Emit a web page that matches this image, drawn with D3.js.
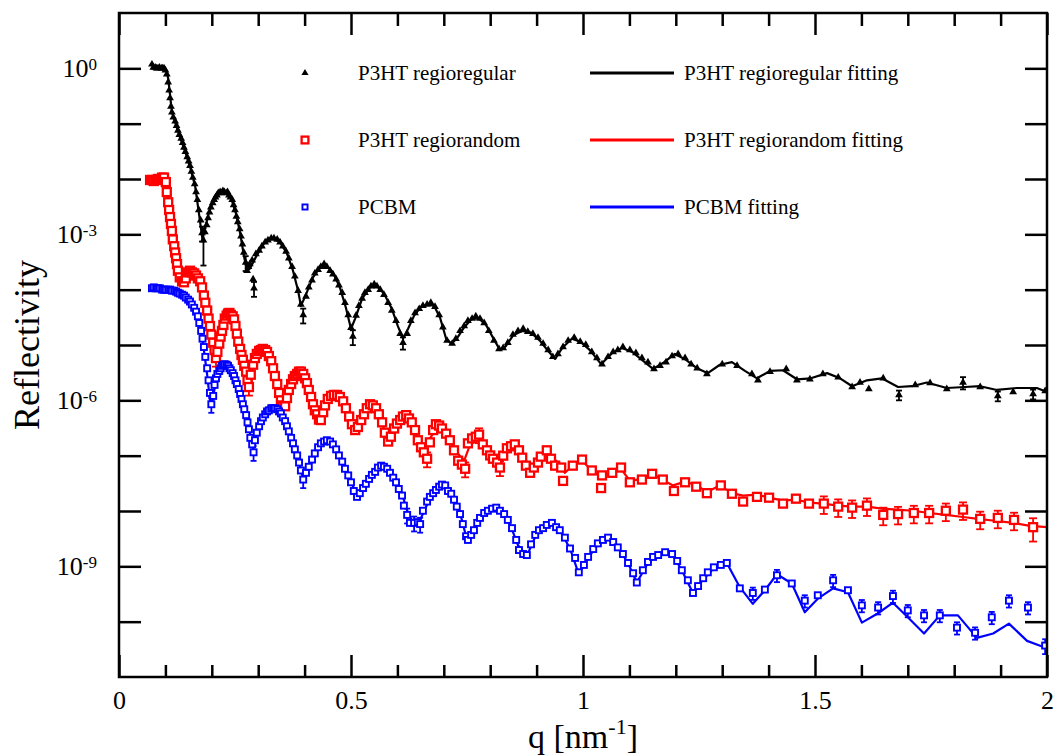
<!DOCTYPE html>
<html>
<head>
<meta charset="utf-8">
<script src="https://cdn.jsdelivr.net/npm/d3@7"></script>
<style>
  body { margin: 0; background: #fff; }
  svg { display: block; }
  text { font-family: "Liberation Serif", "Times New Roman", serif; fill: #000; }
</style>
</head>
<body>
<svg id="chart" width="1053" height="756"></svg>
<script>
// ---- axis definitions ----
const qMajorTicks = [0, 0.5, 1, 1.5, 2];
const qTickLabels = ["0", "0.5", "1", "1.5", "2"];
const labelledExponents = [0, -3, -6, -9];

// ---- legend ----
const markerLabels = ["P3HT regioregular", "P3HT regiorandom", "PCBM"];
const fitLabels = ["P3HT regioregular fitting", "P3HT regiorandom fitting", "PCBM fitting"];
const seriesColors = ["#000000", "#ff0000", "#0000ff"];

// ---- measured reflectivity: [q (nm^-1), R, relative error (optional)] ----
const regioregularData = [
[0.071,1.18],[0.074,1.04],[0.078,1.04],[0.081,1.0],[0.084,1.0],[0.087,1.04],[0.091,1.0],[0.094,1.0],[0.097,1.0],[0.100,0.92],
[0.103,0.78],[0.106,0.56],[0.108,0.40],[0.110,0.29],[0.112,0.205],[0.114,0.16],[0.117,0.13],[0.121,0.11],[0.124,9.2e-2],[0.127,7.5e-2],
[0.130,6.3e-2],[0.134,5.4e-2],[0.137,4.5e-2],[0.140,3.7e-2],[0.143,3.1e-2],[0.147,2.5e-2],[0.150,2.1e-2],[0.153,1.74e-2],[0.156,1.36e-2],[0.159,1.06e-2],
[0.163,8.1e-3],[0.166,5.8e-3],[0.169,4.2e-3],[0.172,2.75e-3],[0.176,1.8e-3],[0.179,1.06e-3,0.3],[0.182,7.8e-4,0.65],[0.185,1.1e-3],[0.189,1.48e-3],[0.192,1.97e-3],
[0.195,2.5e-3],[0.198,3.1e-3],[0.202,3.7e-3],[0.205,4.2e-3],[0.208,4.7e-3],[0.211,5.1e-3],[0.214,5.6e-3],[0.218,5.8e-3],[0.221,5.6e-3],[0.224,6.1e-3],
[0.227,5.8e-3],[0.231,5.6e-3],[0.234,5.8e-3],[0.237,5.1e-3],[0.240,4.7e-3],[0.244,4.2e-3],[0.247,3.4e-3],[0.250,2.75e-3],[0.253,2.1e-3],[0.256,1.67e-3],
[0.260,1.25e-3],[0.263,9.2e-4],[0.266,6.6e-4],[0.269,4.7e-4],[0.273,3.1e-4,0.3],[0.276,2.2e-4],[0.279,2.6e-4],[0.282,2.9e-4],[0.287,3.4e-4],[0.289,1.54e-4],
[0.291,1.06e-4,0.3],[0.295,4.4e-4],[0.302,5.1e-4],[0.308,6.1e-4],[0.315,7.2e-4],[0.321,7.8e-4],[0.328,8.5e-4],[0.334,8.5e-4],[0.341,8.1e-4],[0.347,7.2e-4],
[0.353,6.1e-4],[0.360,4.9e-4],[0.366,3.7e-4],[0.373,2.6e-4],[0.379,1.74e-4],[0.386,9.6e-5],[0.392,5.4e-5],[0.397,3.5e-5,0.3],[0.403,7.5e-5],[0.409,1.1e-4],
[0.416,1.48e-4],[0.422,1.97e-4],[0.429,2.3e-4],[0.435,2.6e-4],[0.442,2.9e-4],[0.448,2.6e-4],[0.455,2.2e-4],[0.461,1.9e-4],[0.468,1.54e-4],[0.474,1.2e-4],
[0.481,8.8e-5],[0.487,5.8e-5],[0.494,3.5e-5],[0.500,2.05e-5],[0.504,1.42e-5,0.3],[0.511,3.4e-5],[0.517,5.1e-5],[0.524,6.9e-5],[0.530,8.8e-5],[0.537,1.0e-4],
[0.543,1.15e-4],[0.550,1.25e-4],[0.556,1.15e-4],[0.563,1.0e-4],[0.571,8.1e-5],[0.580,5.8e-5],[0.588,4.2e-5],[0.597,2.75e-5],[0.606,1.6e-5],[0.612,1.1e-5,0.25],
[0.621,1.6e-5],[0.629,2.75e-5],[0.638,3.8e-5],[0.647,4.5e-5],[0.655,5.1e-5],[0.664,5.4e-5],[0.672,5.8e-5],[0.681,4.9e-5],[0.690,3.5e-5],[0.698,2.1e-5],
[0.707,1.2e-5],[0.718,1.06e-5],[0.726,1.3e-5],[0.735,1.8e-5],[0.744,2.2e-5],[0.752,2.75e-5],[0.761,3.0e-5],[0.769,3.3e-5],[0.778,3.0e-5],[0.787,2.5e-5],
[0.797,1.8e-5],[0.808,1.2e-5],[0.819,8.5e-6],[0.828,8.8e-6],[0.838,1.1e-5],[0.849,1.54e-5],[0.860,1.8e-5],[0.871,1.97e-5],[0.881,1.74e-5],[0.892,1.6e-5],
[0.903,1.36e-5],[0.914,1.06e-5],[0.925,8.1e-6],[0.935,6.1e-6],[0.946,6.9e-6],[0.957,9.2e-6],[0.968,1.2e-5],[0.981,1.36e-5],[0.994,1.15e-5],[1.006,1.01e-5],
[1.019,7.5e-6],[1.030,5.8e-6],[1.041,4.5e-6],[1.054,6.1e-6],[1.065,7.5e-6],[1.075,8.1e-6],[1.086,9.2e-6],[1.101,8.1e-6],[1.114,7.2e-6],[1.127,5.8e-6],
[1.140,4.9e-6],[1.153,3.7e-6],[1.166,4.2e-6],[1.179,4.9e-6],[1.192,6.3e-6],[1.205,6.9e-6],[1.220,5.8e-6],[1.233,4.5e-6],[1.246,3.8e-6],[1.267,3.0e-6],
[1.300,4.5e-6],[1.332,4.2e-6],[1.364,3.0e-6],[1.377,2.3e-6],[1.403,3.3e-6],[1.438,3.7e-6],[1.461,2.3e-6],[1.489,2.4e-6],[1.517,3.0e-6],[1.550,2.6e-6],
[1.580,1.74e-6],[1.597,2.1e-6],[1.616,1.6e-6],[1.647,2.5e-6],[1.681,1.25e-6,0.2],[1.716,1.9e-6],[1.748,2.05e-6],[1.784,1.6e-6],[1.819,2.1e-6,0.25],[1.856,1.74e-6],
[1.894,1.2e-6,0.2],[1.927,1.42e-6],[1.970,1.3e-6,0.2],[1.996,1.48e-6]
];

const regiorandomData = [
[0.067,9.6e-3],[0.071,9.6e-3],[0.075,9.2e-3],[0.080,9.6e-3],[0.084,1.0e-2],[0.088,1.0e-2],[0.093,1.06e-2],[0.097,1.06e-2],[0.101,8.8e-3],[0.103,5.8e-3],
[0.106,3.8e-3],[0.108,2.75e-3],[0.110,2.05e-3],[0.112,1.54e-3],[0.114,1.15e-3],[0.116,8.1e-4],[0.119,6.1e-4],[0.121,4.7e-4],[0.123,3.7e-4],[0.125,2.9e-4],
[0.127,2.2e-4],[0.131,1.67e-4],[0.136,1.42e-4],[0.140,1.36e-4],[0.144,1.6e-4],[0.149,2.05e-4],[0.153,2.2e-4],[0.157,2.05e-4],[0.162,1.97e-4],[0.166,1.8e-4],
[0.170,1.6e-4],[0.175,1.42e-4],[0.179,1.1e-4],[0.183,7.8e-5],[0.186,5.8e-5],[0.190,4.2e-5],[0.193,3.0e-5],[0.196,2.2e-5],[0.199,1.54e-5],[0.203,1.1e-5],
[0.206,8.1e-6],[0.209,5.8e-6,0.3],[0.212,7.5e-6],[0.216,1.06e-5],[0.219,1.42e-5],[0.222,1.8e-5],[0.225,2.3e-5],[0.228,3.0e-5],[0.232,3.4e-5],[0.235,3.7e-5],
[0.238,3.8e-5],[0.241,3.5e-5],[0.245,3.3e-5],[0.248,2.9e-5],[0.251,2.2e-5],[0.254,1.6e-5],[0.257,1.15e-5],[0.261,8.5e-6],[0.264,6.6e-6],[0.267,5.4e-6],
[0.270,4.2e-6],[0.274,3.3e-6],[0.277,2.3e-6],[0.280,1.74e-6,0.3],[0.284,2.9e-6],[0.289,4.4e-6],[0.293,5.8e-6],[0.297,6.9e-6],[0.302,7.8e-6],[0.306,8.1e-6],
[0.310,8.5e-6],[0.315,8.1e-6],[0.319,7.5e-6],[0.323,6.3e-6],[0.328,5.1e-6],[0.332,3.8e-6],[0.336,2.75e-6],[0.341,1.97e-6],[0.345,1.36e-6],[0.349,1.0e-6],
[0.353,8.1e-7],[0.358,7.8e-7],[0.362,1.1e-6],[0.366,1.54e-6],[0.371,1.97e-6],[0.375,2.4e-6],[0.379,2.75e-6],[0.384,3.0e-6],[0.388,3.3e-6],[0.392,3.3e-6],
[0.397,3.0e-6],[0.401,2.5e-6],[0.405,2.05e-6],[0.409,1.54e-6],[0.414,1.15e-6],[0.418,8.5e-7],[0.422,6.6e-7],[0.427,5.6e-7],[0.431,4.5e-7],[0.435,4.4e-7],
[0.440,6.1e-7],[0.444,8.1e-7],[0.450,1.06e-6],[0.457,1.2e-6],[0.463,1.25e-6],[0.470,1.25e-6],[0.476,1.15e-6],[0.483,9.6e-7],[0.489,7.2e-7],[0.496,5.1e-7],
[0.502,3.7e-7],[0.509,2.9e-7],[0.515,3.3e-7],[0.522,4.4e-7],[0.528,5.6e-7],[0.534,7.2e-7],[0.541,8.5e-7],[0.547,8.1e-7],[0.554,7.2e-7],[0.560,5.6e-7],
[0.567,4.0e-7],[0.573,2.6e-7],[0.580,1.8e-7],[0.586,2.2e-7],[0.593,3.1e-7],[0.599,3.8e-7],[0.606,4.4e-7],[0.612,5.1e-7],[0.619,5.4e-7],[0.625,4.7e-7],
[0.631,4.0e-7],[0.638,2.9e-7],[0.644,1.9e-7],[0.651,1.42e-7],[0.657,1.15e-7],[0.664,8.8e-8,0.3],[0.670,1.74e-7],[0.677,2.9e-7],[0.683,3.7e-7],[0.690,3.5e-7],
[0.696,3.1e-7],[0.705,2.5e-7],[0.713,1.9e-7],[0.722,1.25e-7],[0.731,8.1e-8],[0.739,6.9e-8],[0.746,5.8e-8,0.3],[0.752,1.67e-7],[0.761,2.05e-7],[0.769,2.2e-7],
[0.776,2.4e-7,0.3],[0.784,1.6e-7],[0.793,1.25e-7],[0.800,1.01e-7],[0.806,8.8e-8],[0.815,7.5e-8],[0.821,6.1e-8,0.3],[0.828,1.0e-7],[0.836,1.36e-7],[0.845,1.48e-7],
[0.853,1.6e-7],[0.862,1.25e-7],[0.869,9.2e-8],[0.877,6.6e-8],[0.886,4.9e-8],[0.894,6.1e-8],[0.903,7.5e-8],[0.909,9.6e-8],[0.922,1.25e-7],[0.931,8.8e-8],
[0.940,6.6e-8],[0.953,6.1e-8],[0.957,3.5e-8],[0.978,6.6e-8],[0.998,8.5e-8],[1.019,5.4e-8],[1.039,2.6e-8],[1.041,4.4e-8],[1.063,4.9e-8],[1.082,6.1e-8],
[1.101,3.3e-8],[1.127,3.7e-8],[1.149,4.7e-8],[1.172,3.7e-8],[1.196,2.3e-8],[1.220,3.3e-8],[1.244,2.75e-8],[1.267,2.1e-8],[1.297,2.9e-8],[1.321,2.05e-8],
[1.345,1.48e-8],[1.375,1.8e-8],[1.401,1.74e-8],[1.431,1.36e-8],[1.459,1.67e-8],[1.487,1.36e-8],[1.519,1.36e-8,0.35],[1.550,1.2e-8,0.35],[1.580,1.15e-8,0.35],[1.612,1.25e-8,0.35],
[1.647,8.5e-9,0.35],[1.679,8.8e-9,0.35],[1.713,9.2e-9,0.35],[1.746,9.2e-9,0.35],[1.782,1.01e-8,0.35],[1.819,1.06e-8,0.35],[1.856,7.2e-9,0.35],[1.894,7.5e-9,0.35],[1.929,6.9e-9,0.35],[1.970,5.1e-9,0.45]
];

const pcbmData = [
[0.071,1.06e-4],[0.075,1.1e-4],[0.080,1.06e-4],[0.084,1.06e-4],[0.088,1.06e-4],[0.093,1.0e-4],[0.097,1.0e-4],[0.101,1.0e-4],[0.106,1.0e-4],[0.110,1.0e-4],
[0.114,9.6e-5],[0.119,9.6e-5],[0.123,9.2e-5],[0.127,8.8e-5],[0.131,8.5e-5],[0.136,8.1e-5],[0.140,7.8e-5],[0.144,7.2e-5],[0.149,6.6e-5],[0.153,6.1e-5],
[0.157,5.4e-5],[0.162,4.7e-5],[0.166,4.0e-5],[0.170,3.3e-5],[0.173,2.5e-5],[0.177,1.8e-5],[0.180,1.3e-5],[0.183,9.2e-6],[0.186,6.1e-6],[0.190,3.8e-6],
[0.193,2.3e-6],[0.196,1.36e-6],[0.199,8.5e-7,0.3],[0.203,1.2e-6],[0.206,1.9e-6],[0.209,2.5e-6],[0.212,3.0e-6],[0.216,3.4e-6],[0.219,3.8e-6],[0.222,4.2e-6],
[0.225,4.4e-6],[0.228,4.5e-6],[0.232,4.4e-6],[0.235,4.2e-6],[0.238,3.8e-6],[0.241,3.5e-6],[0.245,3.1e-6],[0.248,2.75e-6],[0.251,2.3e-6],[0.254,1.97e-6],
[0.258,1.6e-6],[0.261,1.3e-6],[0.264,1.06e-6],[0.267,8.5e-7],[0.270,6.9e-7],[0.274,5.4e-7],[0.277,4.0e-7],[0.280,3.0e-7],[0.283,2.1e-7],[0.287,1.6e-7],
[0.290,1.15e-7,0.3],[0.293,1.9e-7],[0.297,2.6e-7],[0.302,3.4e-7],[0.306,4.2e-7],[0.310,4.9e-7],[0.315,5.6e-7],[0.319,6.3e-7],[0.323,6.6e-7],[0.328,7.2e-7],
[0.332,7.2e-7],[0.336,7.2e-7],[0.341,6.9e-7],[0.345,6.3e-7],[0.349,5.8e-7],[0.353,4.9e-7],[0.358,4.2e-7],[0.362,3.4e-7],[0.366,2.75e-7],[0.371,2.1e-7],
[0.375,1.67e-7],[0.379,1.3e-7],[0.384,1.01e-7],[0.388,7.5e-8],[0.392,5.4e-8],[0.397,3.7e-8,0.3],[0.403,4.9e-8],[0.409,6.3e-8],[0.416,8.5e-8],[0.422,1.1e-7],
[0.429,1.42e-7],[0.435,1.67e-7],[0.442,1.8e-7],[0.448,1.9e-7],[0.455,1.8e-7],[0.461,1.6e-7],[0.468,1.3e-7],[0.474,1.01e-7],[0.481,7.8e-8],[0.487,5.8e-8],
[0.494,4.4e-8],[0.500,3.3e-8],[0.506,2.3e-8],[0.513,1.8e-8],[0.519,2.1e-8],[0.526,2.6e-8],[0.532,3.1e-8],[0.539,3.8e-8],[0.545,4.5e-8],[0.552,5.1e-8],
[0.558,6.1e-8],[0.565,6.6e-8],[0.571,6.3e-8],[0.578,5.8e-8],[0.584,4.9e-8],[0.591,4.0e-8],[0.597,3.3e-8],[0.603,2.5e-8],[0.610,1.9e-8],[0.614,1.25e-8],
[0.621,8.5e-9,0.3],[0.627,6.1e-9],[0.636,6.1e-9,0.3],[0.644,6.3e-9],[0.649,5.8e-9,0.3],[0.655,1.01e-8],[0.664,1.48e-8],[0.670,1.8e-8],[0.677,2.1e-8],[0.683,2.4e-8],
[0.690,2.75e-8],[0.696,3.0e-8],[0.703,2.9e-8],[0.709,2.3e-8],[0.716,2.05e-8],[0.722,1.6e-8],[0.728,1.2e-8],[0.735,8.8e-9],[0.741,5.8e-9],[0.748,3.5e-9],
[0.752,3.0e-9],[0.759,3.7e-9],[0.765,4.5e-9],[0.772,6.1e-9],[0.778,7.5e-9],[0.787,9.2e-9],[0.795,1.01e-8],[0.804,1.1e-8],[0.813,1.15e-8],[0.821,1.01e-8],
[0.830,8.8e-9],[0.838,6.9e-9],[0.847,4.9e-9],[0.856,3.0e-9],[0.862,1.97e-9],[0.871,1.67e-9],[0.879,1.6e-9],[0.888,2.5e-9],[0.897,3.7e-9],[0.905,4.5e-9],
[0.914,4.9e-9],[0.922,5.6e-9],[0.933,6.1e-9],[0.942,5.1e-9],[0.950,4.5e-9],[0.961,3.3e-9],[0.972,2.1e-9],[0.983,1.42e-9],[0.991,7.8e-10],[1.002,1.06e-9],
[1.011,1.48e-9],[1.022,2.05e-9],[1.032,2.6e-9],[1.043,3.0e-9],[1.054,3.3e-9],[1.065,2.75e-9],[1.075,2.2e-9],[1.086,1.67e-9],[1.097,1.15e-9],[1.108,7.5e-10],
[1.116,5.1e-10],[1.129,8.5e-10],[1.140,1.2e-9],[1.151,1.48e-9],[1.162,1.6e-9],[1.177,1.8e-9],[1.192,1.67e-9],[1.203,1.25e-9],[1.213,8.5e-10],[1.226,5.6e-10],
[1.237,3.3e-10],[1.248,4.4e-10],[1.259,6.1e-10],[1.269,7.8e-10],[1.282,9.6e-10],[1.297,1.06e-9],[1.310,1.15e-9],[1.338,4.0e-10],[1.366,3.3e-10,0.25],[1.392,3.8e-10],
[1.418,6.9e-10,0.25],[1.450,4.9e-10],[1.478,2.4e-10,0.25],[1.506,3.0e-10],[1.539,5.6e-10,0.25],[1.571,3.7e-10],[1.601,1.97e-10,0.25],[1.636,1.8e-10,0.25],[1.668,2.9e-10,0.25],[1.700,1.6e-10,0.25],
[1.735,1.3e-10,0.25],[1.769,1.3e-10,0.25],[1.806,7.8e-11,0.25],[1.845,6.3e-11,0.25],[1.881,1.2e-10,0.25],[1.918,2.4e-10,0.25],[1.959,1.8e-10,0.25],[1.996,3.7e-11,0.3]
];

// ---- model fits: [q, R] ----
const regioregularFit = [
[0.071,1.04],[0.088,1.04],[0.101,0.96],[0.106,0.66],[0.110,0.33],[0.114,0.16],[0.121,0.106],[0.131,5.8e-2],[0.142,3.3e-2],[0.153,1.67e-2],
[0.164,7.5e-3],[0.172,2.5e-3],[0.179,9.2e-4],[0.185,1.25e-3],[0.194,2.5e-3],[0.205,4.4e-3],[0.218,5.6e-3],[0.231,5.8e-3],[0.241,4.7e-3],[0.252,2.4e-3],
[0.261,1.06e-3],[0.269,4.2e-4],[0.276,2.2e-4],[0.282,2.4e-4],[0.297,4.2e-4],[0.313,6.9e-4],[0.330,8.8e-4],[0.347,7.2e-4],[0.362,4.5e-4],[0.375,2.2e-4],
[0.386,9.6e-5],[0.392,5.1e-5],[0.401,7.5e-5],[0.418,1.67e-4],[0.433,2.5e-4],[0.446,2.75e-4],[0.461,2.05e-4],[0.476,1.1e-4],[0.489,4.7e-5],[0.500,1.97e-5],
[0.509,3.0e-5],[0.524,6.9e-5],[0.541,1.1e-4],[0.554,1.2e-4],[0.571,8.5e-5],[0.588,4.5e-5],[0.601,2.2e-5],[0.612,1.3e-5],[0.623,1.97e-5],[0.636,3.4e-5],
[0.651,4.9e-5],[0.666,5.4e-5],[0.679,5.1e-5],[0.692,3.1e-5],[0.705,1.3e-5],[0.716,1.06e-5],[0.728,1.3e-5],[0.744,2.1e-5],[0.761,3.0e-5],[0.776,3.0e-5],
[0.791,2.3e-5],[0.806,1.36e-5],[0.821,8.1e-6],[0.834,9.6e-6],[0.849,1.48e-5],[0.869,1.8e-5],[0.888,1.67e-5],[0.907,1.2e-5],[0.925,7.8e-6],[0.940,5.6e-6],
[0.955,8.8e-6],[0.976,1.3e-5],[0.994,1.15e-5],[1.015,8.1e-6],[1.039,4.5e-6],[1.063,7.2e-6],[1.084,8.8e-6],[1.106,7.5e-6],[1.127,5.4e-6],[1.151,3.7e-6],
[1.175,4.9e-6],[1.198,6.9e-6],[1.222,5.4e-6],[1.246,3.8e-6],[1.269,3.1e-6],[1.295,4.4e-6],[1.321,4.9e-6],[1.349,3.4e-6],[1.375,2.5e-6],[1.403,3.4e-6],
[1.431,3.5e-6],[1.461,2.4e-6],[1.491,2.5e-6],[1.526,3.1e-6],[1.554,2.5e-6],[1.580,1.8e-6],[1.612,2.3e-6],[1.644,2.5e-6],[1.679,1.74e-6],[1.709,1.8e-6],
[1.741,2.1e-6],[1.784,1.67e-6],[1.823,1.74e-6],[1.856,1.8e-6],[1.892,1.54e-6],[1.935,1.67e-6],[1.978,1.67e-6],[2.000,1.42e-6]
];

const regiorandomFit = [
[0.067,9.6e-3],[0.099,1.01e-2],[0.106,4.2e-3],[0.114,1.3e-3],[0.123,4.2e-4],[0.131,1.67e-4],[0.140,1.36e-4],[0.153,2.05e-4],[0.164,1.97e-4],[0.175,1.48e-4],
[0.183,7.8e-5],[0.192,3.4e-5],[0.200,1.2e-5],[0.209,5.8e-6],[0.218,1.06e-5],[0.228,2.75e-5],[0.239,3.7e-5],[0.250,2.75e-5],[0.259,1.2e-5],[0.267,5.8e-6],
[0.276,2.9e-6],[0.282,1.9e-6],[0.291,4.4e-6],[0.304,7.5e-6],[0.315,8.1e-6],[0.325,6.1e-6],[0.334,3.3e-6],[0.343,1.67e-6],[0.356,7.8e-7],[0.369,1.54e-6],
[0.381,2.75e-6],[0.394,3.3e-6],[0.405,2.2e-6],[0.416,1.1e-6],[0.427,5.8e-7],[0.435,4.4e-7],[0.446,8.1e-7],[0.459,1.2e-6],[0.472,1.25e-6],[0.485,9.2e-7],
[0.496,4.9e-7],[0.509,2.9e-7],[0.524,4.7e-7],[0.541,7.8e-7],[0.556,6.9e-7],[0.569,3.5e-7],[0.580,1.9e-7],[0.595,3.3e-7],[0.610,4.7e-7],[0.627,4.4e-7],
[0.640,2.3e-7],[0.655,1.42e-7],[0.670,2.05e-7],[0.685,3.1e-7],[0.700,2.9e-7],[0.713,1.9e-7],[0.728,1.15e-7],[0.744,8.1e-8],[0.756,1.54e-7],[0.774,2.05e-7],
[0.791,1.54e-7],[0.808,9.2e-8],[0.823,7.2e-8],[0.838,1.2e-7],[0.856,1.42e-7],[0.871,1.0e-7],[0.886,6.1e-8],[0.905,8.1e-8],[0.922,1.15e-7],[0.942,8.1e-8],
[0.961,4.9e-8],[0.978,6.6e-8],[0.998,8.1e-8],[1.019,5.4e-8],[1.041,4.2e-8],[1.063,4.9e-8],[1.082,5.8e-8],[1.101,3.5e-8],[1.127,3.8e-8],[1.149,4.7e-8],
[1.170,3.7e-8],[1.194,2.9e-8],[1.220,3.4e-8],[1.246,2.9e-8],[1.267,2.2e-8],[1.295,2.9e-8],[1.321,2.1e-8],[1.345,1.9e-8],[1.375,1.97e-8],[1.401,1.74e-8],
[1.431,1.54e-8],[1.459,1.6e-8],[1.489,1.42e-8],[1.517,1.36e-8],[1.550,1.25e-8],[1.580,1.2e-8],[1.612,1.2e-8],[1.644,1.1e-8],[1.677,1.06e-8],[1.711,1.01e-8],
[1.746,9.2e-9],[1.782,8.5e-9],[1.819,7.8e-9],[1.851,7.2e-9],[1.892,6.6e-9],[1.927,6.1e-9],[1.963,5.4e-9],[2.000,5.1e-9]
];

const pcbmFit = [
[0.071,1.0e-4],[0.121,9.6e-5],[0.142,7.8e-5],[0.157,5.8e-5],[0.168,3.7e-5],[0.177,1.8e-5],[0.183,8.1e-6],[0.190,2.9e-6],[0.196,1.0e-6],[0.200,8.1e-7],
[0.209,2.3e-6],[0.218,3.5e-6],[0.231,4.4e-6],[0.241,3.8e-6],[0.252,2.6e-6],[0.263,1.36e-6],[0.272,6.6e-7],[0.280,3.1e-7],[0.289,1.36e-7],[0.297,2.5e-7],
[0.308,4.4e-7],[0.321,6.1e-7],[0.336,7.2e-7],[0.351,5.8e-7],[0.364,3.4e-7],[0.375,1.74e-7],[0.386,8.8e-8],[0.397,3.8e-8],[0.409,5.8e-8],[0.425,1.15e-7],
[0.440,1.8e-7],[0.457,1.8e-7],[0.472,1.15e-7],[0.487,6.1e-8],[0.502,3.1e-8],[0.513,1.9e-8],[0.532,2.9e-8],[0.547,4.5e-8],[0.563,6.3e-8],[0.580,5.8e-8],
[0.597,3.5e-8],[0.610,2.05e-8],[0.621,1.01e-8],[0.634,6.1e-9],[0.649,6.9e-9],[0.666,1.42e-8],[0.683,2.4e-8],[0.698,3.0e-8],[0.713,2.3e-8],[0.728,1.36e-8],
[0.739,6.9e-9],[0.750,3.0e-9],[0.763,4.2e-9],[0.778,7.5e-9],[0.795,1.01e-8],[0.810,1.15e-8],[0.828,9.2e-9],[0.845,5.1e-9],[0.860,2.4e-9],[0.879,1.54e-9],
[0.897,3.4e-9],[0.914,4.9e-9],[0.933,6.1e-9],[0.950,4.5e-9],[0.972,2.1e-9],[0.991,7.2e-10],[1.011,1.42e-9],[1.032,2.5e-9],[1.054,3.3e-9],[1.075,2.2e-9],
[1.097,1.15e-9],[1.116,5.1e-10],[1.140,1.15e-9],[1.162,1.6e-9],[1.177,1.8e-9],[1.192,1.67e-9],[1.213,8.5e-10],[1.237,3.3e-10],[1.259,5.8e-10],[1.282,9.2e-10],
[1.310,1.15e-9],[1.338,4.2e-10],[1.366,2.1e-10],[1.392,3.7e-10],[1.418,7.2e-10],[1.450,4.9e-10],[1.478,1.48e-10],[1.506,2.6e-10],[1.539,4.0e-10],[1.571,3.4e-10],
[1.601,9.6e-11],[1.636,1.42e-10],[1.668,2.2e-10],[1.700,1.2e-10],[1.735,6.1e-11],[1.769,1.3e-10],[1.808,1.3e-10],[1.849,5.1e-11],[1.884,6.1e-11],[1.918,9.2e-11],
[1.957,4.5e-11],[2.000,3.3e-11]
];

// ---- layout ----
const plot = { left: 119, right: 1047, top: 13, bottom: 677 };

const svg = d3.select("#chart");
const x = d3.scaleLinear().domain([0, 2]).range([plot.left, plot.right]);
const y = d3.scaleLog().domain([1e-11, 1e1]).range([plot.bottom, plot.top]);

svg.append("defs").append("clipPath").attr("id", "plotClip")
  .append("rect")
  .attr("x", plot.left).attr("y", plot.top)
  .attr("width", plot.right - plot.left).attr("height", plot.bottom - plot.top);

const body = svg.append("g").attr("clip-path", "url(#plotClip)");

const line = d3.line().x(d => x(d[0])).y(d => y(d[1]));

const series = [
  { data: regioregularData, fit: regioregularFit, color: seriesColors[0], marker: "triangle", cap: 6 },
  { data: regiorandomData,  fit: regiorandomFit,  color: seriesColors[1], marker: "bigSquare", cap: 8 },
  { data: pcbmData,         fit: pcbmFit,         color: seriesColors[2], marker: "smallSquare", cap: 6 }
];

function drawMarker(sel, kind, color, scale = 1) {
  if (kind === "triangle") {
    sel.append("path")
      .attr("d", d3.symbol(d3.symbolTriangle, 26 * scale)())
      .attr("fill", color);
  } else if (kind === "bigSquare") {
    const h = 4 * scale;
    sel.append("rect")
      .attr("x", -h).attr("y", -h).attr("width", 2 * h).attr("height", 2 * h)
      .attr("fill", "#fff").attr("stroke", color).attr("stroke-width", 2.3);
  } else {
    const h = 3 * scale;
    sel.append("rect")
      .attr("x", -h).attr("y", -h).attr("width", 2 * h).attr("height", 2 * h)
      .attr("fill", "#fff").attr("stroke", color).attr("stroke-width", 1.9);
  }
}

series.forEach(s => {
  // fitted curve
  body.append("path")
    .datum(s.fit)
    .attr("fill", "none")
    .attr("stroke", s.color)
    .attr("stroke-width", 2.2)
    .attr("stroke-linejoin", "round")
    .attr("d", line);

  // error bars
  const withErr = s.data.filter(d => d.length > 2);
  const eb = body.append("g").attr("stroke", s.color).attr("stroke-width", 1.8);
  withErr.forEach(d => {
    const cx = x(d[0]);
    const yLo = y(d[1] * (1 - d[2]));
    const yHi = y(d[1] * (1 + d[2]));
    eb.append("line").attr("x1", cx).attr("x2", cx).attr("y1", yLo).attr("y2", yHi);
    eb.append("line").attr("x1", cx - s.cap / 2).attr("x2", cx + s.cap / 2).attr("y1", yLo).attr("y2", yLo);
    eb.append("line").attr("x1", cx - s.cap / 2).attr("x2", cx + s.cap / 2).attr("y1", yHi).attr("y2", yHi);
  });

  // data markers
  body.append("g").selectAll("g")
    .data(s.data)
    .join("g")
    .attr("transform", d => `translate(${x(d[0])},${y(d[1])})`)
    .each(function () { drawMarker(d3.select(this), s.marker, s.color); });
});

// ---- axes ----
const decades = d3.range(-10, 1).map(e => Number("1e" + e));
const minorQ = d3.range(0, 21).map(i => i / 10).filter(v => !qMajorTicks.some(m => Math.abs(m - v) < 1e-9));

function styleAxis(g) {
  g.select(".domain").remove();
  g.selectAll(".tick line").attr("stroke", "#000").attr("stroke-width", 2.5);
}

// left: decade ticks, labels every third decade
const leftAxis = svg.append("g")
  .attr("transform", `translate(${plot.left},0)`)
  .call(d3.axisLeft(y).tickValues(decades).tickSize(-22).tickSizeOuter(0).tickPadding(22)
    .tickFormat(() => ""))
  .call(styleAxis);

leftAxis.selectAll(".tick").each(function (d) {
  const e = Math.round(Math.log10(d));
  const t = d3.select(this).select("text");
  t.attr("font-size", 26).attr("fill", "#000").attr("font-family", "Liberation Serif, serif");
  if (labelledExponents.includes(e)) {
    t.text("10");
    t.append("tspan").attr("dy", "-0.45em").attr("font-size", 17).text(String(e));
  }
});

// right: decade ticks only
svg.append("g")
  .attr("transform", `translate(${plot.right},0)`)
  .call(d3.axisRight(y).tickValues(decades).tickSize(-22).tickSizeOuter(0).tickFormat(() => ""))
  .call(styleAxis);

// bottom: major and minor ticks
const bottomMajor = svg.append("g")
  .attr("transform", `translate(0,${plot.bottom})`)
  .call(d3.axisBottom(x).tickValues(qMajorTicks).tickSize(-22).tickSizeOuter(0).tickPadding(14)
    .tickFormat((d, i) => qTickLabels[i]))
  .call(styleAxis);
bottomMajor.selectAll(".tick text")
  .attr("font-size", 26).attr("fill", "#000").attr("font-family", "Liberation Serif, serif");

svg.append("g")
  .attr("transform", `translate(0,${plot.bottom})`)
  .call(d3.axisBottom(x).tickValues(minorQ).tickSize(-12).tickSizeOuter(0).tickFormat(() => ""))
  .call(styleAxis);

// top: major and minor ticks
svg.append("g")
  .attr("transform", `translate(0,${plot.top})`)
  .call(d3.axisTop(x).tickValues(qMajorTicks).tickSize(-22).tickSizeOuter(0).tickFormat(() => ""))
  .call(styleAxis);
svg.append("g")
  .attr("transform", `translate(0,${plot.top})`)
  .call(d3.axisTop(x).tickValues(minorQ).tickSize(-13).tickSizeOuter(0).tickFormat(() => ""))
  .call(styleAxis);

// frame
svg.append("rect")
  .attr("x", plot.left).attr("y", plot.top)
  .attr("width", plot.right - plot.left).attr("height", plot.bottom - plot.top)
  .attr("fill", "none").attr("stroke", "#000").attr("stroke-width", 2.5);

// axis titles
svg.append("text")
  .attr("transform", `translate(39,${(plot.top + plot.bottom) / 2}) rotate(-90)`)
  .attr("text-anchor", "middle")
  .attr("font-size", 36)
  .text("Reflectivity");

const xTitle = svg.append("text")
  .attr("x", (plot.left + plot.right) / 2)
  .attr("y", 748)
  .attr("text-anchor", "middle")
  .attr("font-size", 34);
xTitle.append("tspan").text("q [nm");
xTitle.append("tspan").attr("dy", -14).attr("font-size", 22).text("-1");
xTitle.append("tspan").attr("dy", 14).text("]");

// ---- legend ----
const legendRowsY = [73, 140, 207];
const legend = svg.append("g");
series.forEach((s, i) => {
  const ly = legendRowsY[i];
  const m = legend.append("g").attr("transform", `translate(305,${ly})`);
  drawMarker(m, s.marker, s.color, 0.85);
  legend.append("text").attr("x", 358).attr("y", ly + 7).attr("font-size", 21).text(markerLabels[i]);
  legend.append("line")
    .attr("x1", 590).attr("x2", 674).attr("y1", ly).attr("y2", ly)
    .attr("stroke", s.color).attr("stroke-width", 2.8);
  legend.append("text").attr("x", 684).attr("y", ly + 7).attr("font-size", 21).text(fitLabels[i]);
});
</script>
</body>
</html>
